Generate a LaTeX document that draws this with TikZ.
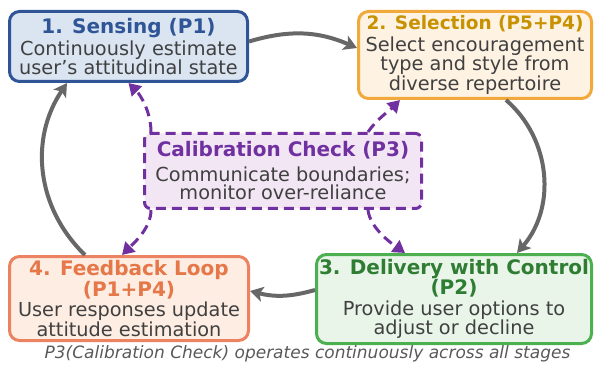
\documentclass[tikz,border=0pt]{standalone}
\usepackage{fontspec}
\setmainfont{DejaVu Sans}
\usetikzlibrary{arrows.meta}

\definecolor{senseblue}{HTML}{2F5597}
\definecolor{sensefill}{HTML}{DAE5F1}
\definecolor{selectline}{HTML}{F2A93B}
\definecolor{selecttitle}{HTML}{C79100}
\definecolor{selectfill}{HTML}{FEF2E2}
\definecolor{delivline}{HTML}{4CAF50}
\definecolor{delivtitle}{HTML}{2E7D32}
\definecolor{delivfill}{HTML}{E9F5E9}
\definecolor{fbackline}{HTML}{EB8261}
\definecolor{fbacktitle}{HTML}{E57748}
\definecolor{fbackfill}{HTML}{FDEDE3}
\definecolor{calpurple}{HTML}{7030A0}
\definecolor{calfill}{HTML}{F2E6F5}
\definecolor{bodygray}{HTML}{404040}
\definecolor{flowgray}{HTML}{676767}
\definecolor{notegray}{HTML}{595959}

\newcommand\bodysize{\fontsize{19.3}{18.5}\selectfont}
\newcommand\ttl[2]{{\fontsize{20}{20}\selectfont\bfseries\color{#1}#2}}

\tikzset{
  stage/.style={line width=3pt, rounded corners=10pt, align=center,
    inner sep=0pt, font=\bodysize, text=bodygray},
  flow/.style={draw=flowgray, line width=4pt,
    -{Stealth[length=13pt,width=15pt,inset=3pt]}},
  check/.style={draw=calpurple, line width=3pt, dash pattern=on 10pt off 6pt,
    -{Triangle[length=12pt,width=14pt]}},
}

\begin{document}
\begin{tikzpicture}[x=1pt,y=-1pt]
  \useasboundingbox (0,0) rectangle (594,366);

  % four stages
  \node[stage, draw=senseblue, fill=sensefill, minimum width=238pt, minimum height=70pt]
    (sense) at (128.5,46.5)
    {\ttl{senseblue}{1. Sensing (P1)}\\[2pt]
     Continuously estimate\\user’s attitudinal state};
  \node[stage, draw=selectline, fill=selectfill, minimum width=233pt, minimum height=87pt]
    (select) at (475,55)
    {\ttl{selecttitle}{\fontsize{18.5}{20}\selectfont 2. Selection (P5+P4)}\\[3pt]
     Select encouragement\\type and style from\\diverse repertoire};
  \node[stage, draw=delivline, fill=delivfill, minimum width=275pt, minimum height=89pt]
    (deliv) at (454,299)
    {\ttl{delivtitle}{3. Delivery with Control}\\\ttl{delivtitle}{(P2)}\\[2pt]
     Provide user options to\\adjust or decline};
  \node[stage, draw=fbackline, fill=fbackfill, minimum width=239pt, minimum height=84pt]
    (fback) at (129,298.5)
    {\ttl{fbacktitle}{4. Feedback Loop}\\\ttl{fbacktitle}{(P1+P4)}\\[2pt]
     User responses update\\attitude estimation};

  % calibration check in the middle
  \node[stage, draw=calpurple, fill=calfill, dash pattern=on 10pt off 6pt,
    rounded corners=6pt, minimum width=277pt, minimum height=75pt]
    (calib) at (283,171)
    {\ttl{calpurple}{Calibration Check (P3)}\\[6pt]
     Communicate boundaries;\\monitor over-reliance};

  % main cycle
  \draw[flow] ([yshift=5pt]sense.east) to[bend left=20] ([yshift=7pt]select.west);
  \draw[flow] ([xshift=31pt]select.south) to[bend left=45] ([xshift=63pt]deliv.north);
  \draw[flow] ([yshift=9pt]deliv.west) to[bend left=15] ([yshift=7.5pt]fback.east);
  \draw[flow] ([xshift=-44pt]fback.north) to[bend left=40] ([xshift=-61.5pt]sense.south);

  % calibration links
  \draw[check] ([xshift=8pt]calib.north west) .. controls +(0,-20) and +(12,12) .. (sense.south);
  \draw[check] ([xshift=-55pt]calib.north east) .. controls +(8,-12) and +(-10,10) .. ([xshift=-75pt]select.south);
  \draw[check] ([xshift=8pt]calib.south west) .. controls +(0,18) and +(12,-12) .. ([xshift=-7pt]fback.north);
  \draw[check] ([xshift=-55pt]calib.south east) .. controls +(2,18) and +(-14,-10) .. ([xshift=-49pt]deliv.north);

  \node[font=\fontsize{17}{17}\selectfont\itshape, text=notegray] (note) at (307.5,354)
    {P3(Calibration Check) operates continuously across all stages};
\end{tikzpicture}
\end{document}
